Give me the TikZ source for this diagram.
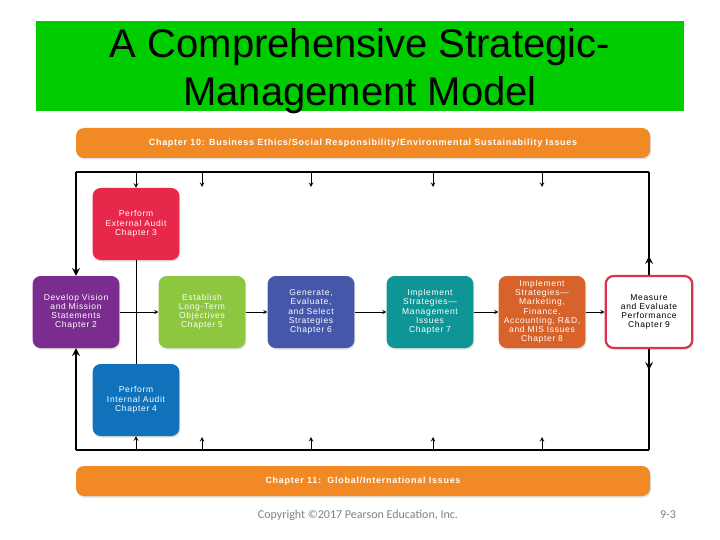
\documentclass[tikz,border=0pt]{standalone}
\usepackage{fontspec}
\setmainfont{Liberation Sans}
\newfontfamily\footfont{Carlito}
\newfontfamily\boxfont[LetterSpace=8]{Liberation Sans}
\usetikzlibrary{shadows}
\definecolor{titlegreen}{RGB}{0,204,0}
\definecolor{barorange}{RGB}{241,137,36}
\definecolor{extred}{RGB}{232,40,75}
\definecolor{vispurple}{RGB}{122,45,142}
\definecolor{objgreen}{RGB}{141,198,63}
\definecolor{genblue}{RGB}{69,87,168}
\definecolor{mgmtteal}{RGB}{15,149,149}
\definecolor{mktorange}{RGB}{215,99,42}
\definecolor{measred}{RGB}{217,52,79}
\definecolor{intblue}{RGB}{16,114,186}
\begin{document}
\begin{tikzpicture}[x=1pt, y=-1pt, line join=round, >=stealth,
    box/.style={rounded corners=8pt, minimum width=86pt, minimum height=72pt, text width=80pt, align=center, text=white,
        font=\boxfont\fontsize{8.5}{9.2}\selectfont, drop shadow={opacity=0.25, shadow xshift=1pt, shadow yshift=-1.5pt}},
    bar/.style={rounded corners=8pt, fill=barorange, minimum width=574pt, minimum height=30pt, text=white,
        font=\boxfont\bfseries\fontsize{9}{10}\selectfont, drop shadow={opacity=0.25, shadow xshift=1pt, shadow yshift=-1.5pt}},
    flow/.style={->, line width=0.9pt},
    frame/.style={line width=2.4pt},
    tick/.style={->, line width=1pt}]
    \useasboundingbox (0,0) rectangle (720,540);
    \def\xl{76} \def\xr{649} \def\yt{172} \def\yb{450}
    \node[fill=titlegreen, minimum width=648pt, minimum height=90pt] (title) at (360,66) {};
    \node[align=center, font=\fontsize{40}{48}\selectfont] (titletext) at (360,71) {A Comprehensive Strategic-\\Management Model};
    \node[bar] (ethics) at (363,143) {Chapter 10: Business Ethics/Social Responsibility/Environmental Sustainability Issues};
    \node[bar] (global) at (363,481) {Chapter 11:\ \ Global/International Issues};
    \node[box, fill=extred] (ext) at (136,224) {Perform\\External Audit\\Chapter 3};
    \node[box, fill=vispurple] (vis) at (\xl,312) {Develop Vision\\and Mission\\Statements\\Chapter 2};
    \node[box, fill=objgreen] (obj) at (202,312) {Establish\\Long-Term\\Objectives\\Chapter 5};
    \node[box, fill=genblue] (gen) at (311,312) {Generate,\\Evaluate,\\and Select\\Strategies\\Chapter 6};
    \node[box, fill=mgmtteal] (mgmt) at (430,312) {Implement\\Strategies—\\Management\\Issues\\Chapter 7};
    \node[box, fill=mktorange] (mkt) at (542,312) {Implement\\Strategies—\\Marketing,\\Finance,\\Accounting, R\&D,\\and MIS Issues\\Chapter 8};
    \node[box, fill=white, draw=measred, line width=2.2pt, text=black] (meas) at (\xr,312) {Measure\\and Evaluate\\Performance\\Chapter 9};
    \node[box, fill=intblue] (int) at (136,400) {Perform\\Internal Audit\\Chapter 4};
    \coordinate (tl) at (\xl,\yt); \coordinate (tr) at (\xr,\yt);
    \coordinate (bl) at (\xl,\yb); \coordinate (br) at (\xr,\yb);
    \coordinate (mu) at (\xr,256); \coordinate (md) at (\xr,370);
    \draw[line width=1pt] (ext) -- (int);
    \draw[flow] (vis) -- (obj);
    \draw[flow] (obj) -- (gen);
    \draw[flow] (gen) -- (mgmt);
    \draw[flow] (mgmt) -- (mkt);
    \draw[flow] (mkt) -- (meas);
    \draw[frame] (meas.north) -- (tr);
    \draw[frame, ->] (meas.north) -- (mu);
    \draw[frame] (meas.south) -- (br);
    \draw[frame, ->] (meas.south) -- (md);
    \draw[line width=2pt] (tr) -- (tl);
    \draw[line width=2pt] (br) -- (bl);
    \draw[frame, ->] (tl) -- (vis.north);
    \draw[frame, ->] (bl) -- (vis.south);
    \draw[tick] (ext.north |- tl) -- (ext.north);
    \draw[tick] (int.south |- bl) -- (int.south);
    \foreach \n/\x in {a/202,b/311,c/433,d/542}{
        \coordinate (t\n) at (\x,\yt); \coordinate (u\n) at (\x,187);
        \coordinate (b\n) at (\x,\yb); \coordinate (v\n) at (\x,437);
        \draw[tick] (t\n) -- (u\n);
        \draw[tick] (b\n) -- (v\n);
    }
    \node[text=gray, font=\footfont\fontsize{12}{14}\selectfont] (copy) at (358,515) {Copyright ©2017 Pearson Education, Inc.};
    \node[text=gray, font=\footfont\fontsize{12}{14}\selectfont] (page) at (668,515) {9-3};
\end{tikzpicture}
\end{document}
